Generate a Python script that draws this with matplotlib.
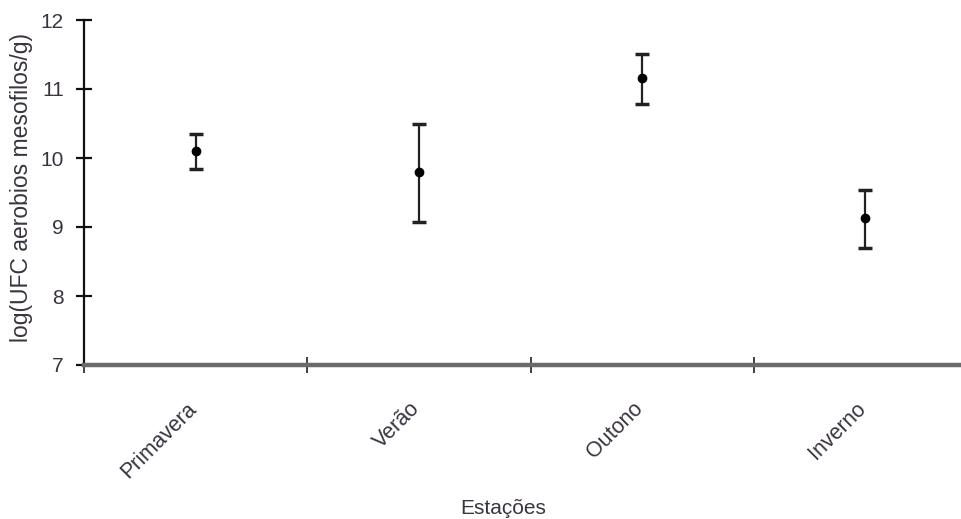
import matplotlib
matplotlib.use("Agg")
import matplotlib.pyplot as plt
import matplotlib.transforms as mtransforms
import numpy as np

categories = ["Primavera", "Verão", "Outono", "Inverno"]
means = [10.10, 9.79, 11.16, 9.13]
upper = [10.35, 10.49, 11.51, 9.54]
lower = [9.84, 9.07, 10.78, 8.69]
yticks = [7, 8, 9, 10, 11, 12]

plt.rcParams['font.family'] = ['Liberation Sans', 'DejaVu Sans']

fig = plt.figure(figsize=(9.62, 5.19), dpi=100)
ax = fig.add_axes([84/962, 1-365/519, (977-84)/962, (365-20)/519])
ax.set_xlim(0, 4)
ax.set_ylim(7, 12)

x = np.arange(len(categories)) + 0.5
m = np.array(means)
yerr = np.vstack([m - np.array(lower), np.array(upper) - m])
ax.errorbar(x, m, yerr=yerr, fmt='o', color='black', ecolor='#222222',
            markersize=6, elinewidth=1.6, capsize=5, capthick=2.5, zorder=3)

for s in ['top', 'right']:
    ax.spines[s].set_visible(False)
ax.spines['left'].set_color('#111111')
ax.spines['left'].set_linewidth(1.6)
ax.spines['bottom'].set_color('#6a6a6a')
ax.spines['bottom'].set_linewidth(3.2)

ax.set_yticks(yticks)
ax.set_yticklabels([str(t) for t in yticks])
ax.tick_params(axis='y', direction='inout', length=11, width=1.6, color='#111111',
               labelsize=15, labelcolor='#3a3340', pad=9)

ax.set_xticks([0, 1, 2, 3])
ax.set_xticklabels([])
ax.tick_params(axis='x', which='major', direction='inout', length=11, width=1.2, color='#222222')
ax.set_xticks(x, minor=True)
ax.set_xticklabels(categories, minor=True, rotation=45, ha='right', va='top',
                   rotation_mode='anchor')
ax.tick_params(axis='x', which='minor', length=0, pad=24, labelsize=15.5, labelcolor='#3a3340')
offset = mtransforms.ScaledTranslation(-10/100, 0, fig.dpi_scale_trans)
for lab in ax.get_xticklabels(minor=True):
    lab.set_transform(lab.get_transform() + offset)

fig.text(22/962, 1-187/519, "log(UFC aerobios mesofilos/g)", rotation=90,
         ha='center', va='center', fontsize=16.5, color='#3a3340')
fig.text(503/962, 1-508/519, "Estações", ha='center', va='center',
         fontsize=15, color='#3a3340')

fig.savefig("out.png", dpi=100)
